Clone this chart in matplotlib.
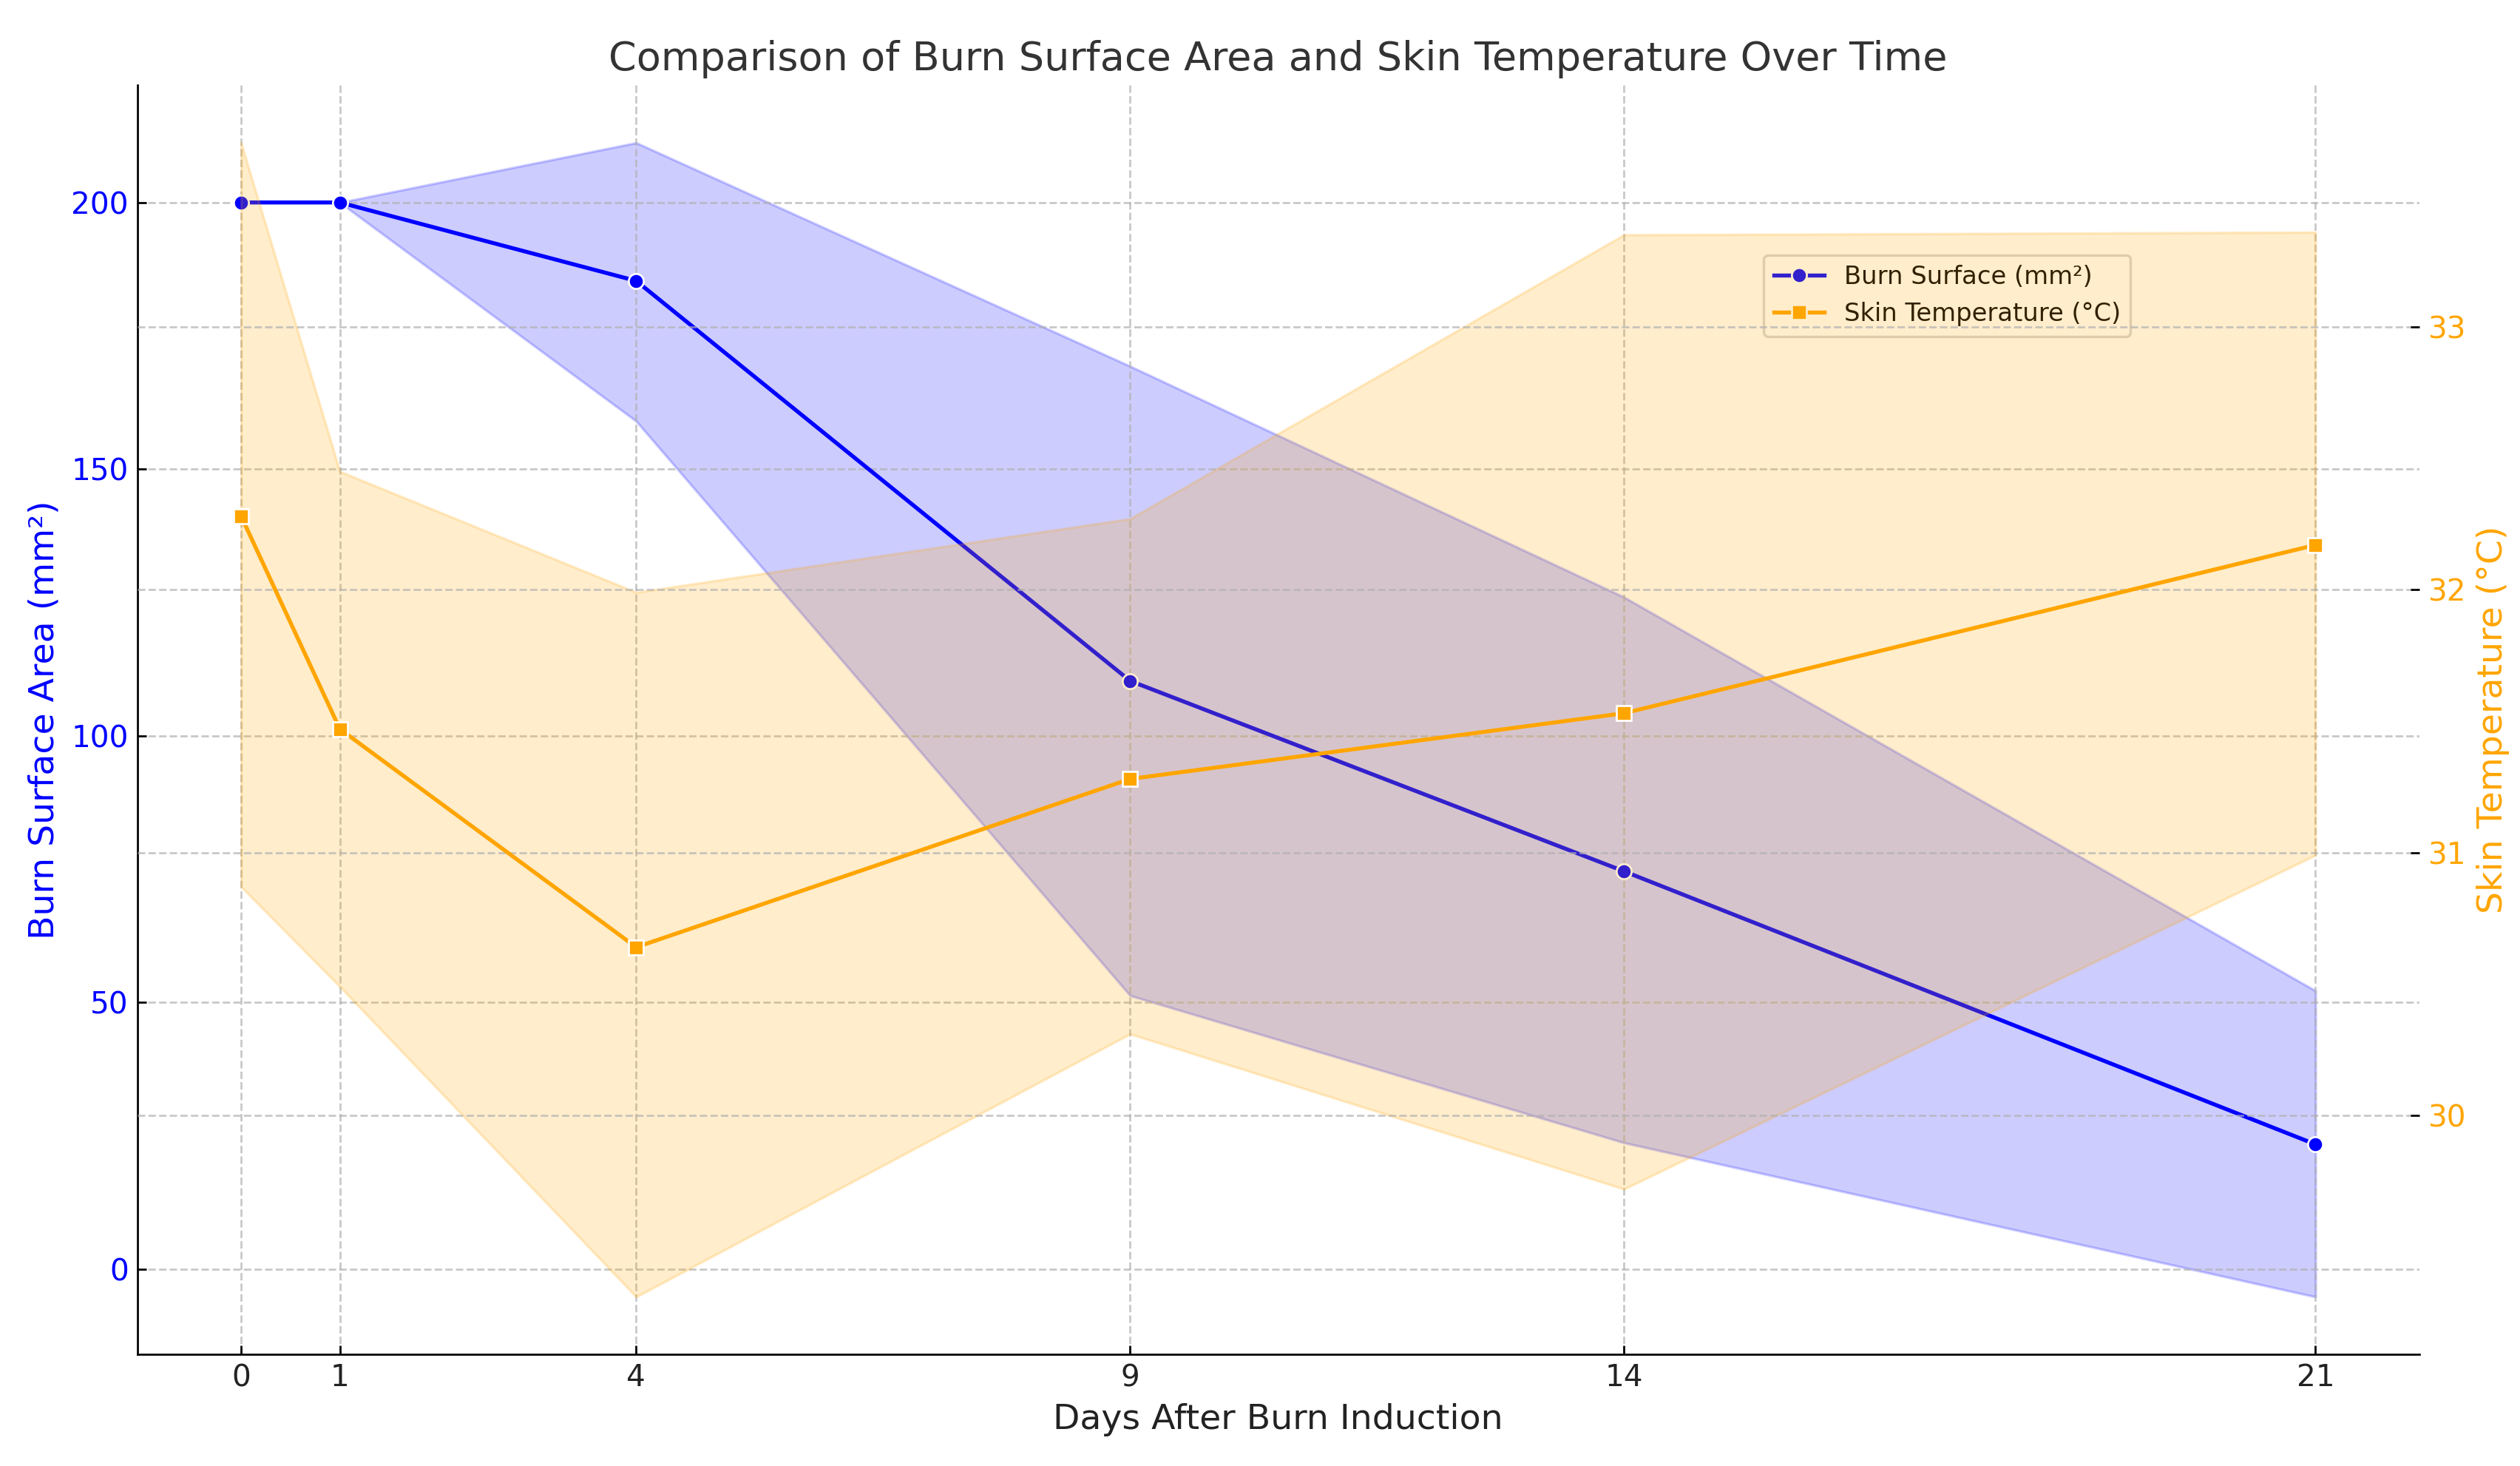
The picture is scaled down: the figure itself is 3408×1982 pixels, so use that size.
import numpy as np
import matplotlib.pyplot as plt

# days after burn induction
days = [0, 1, 4, 9, 14, 21]

# burn surface area (mm2): mean and band
burn_mean = [200, 200, 185.3, 110.3, 74.6, 23.4]
burn_low = [200, 200, 159.0, 51.3, 23.7, -5.2]
burn_high = [200, 200, 211.2, 169.3, 126.0, 52.2]

# skin temperature (C): mean and band
temp_mean = [32.28, 31.47, 30.64, 31.28, 31.53, 32.17]
temp_low = [30.87, 30.49, 29.31, 30.31, 29.72, 30.99]
temp_high = [33.70, 32.45, 31.99, 32.27, 33.35, 33.36]

DPI = 243.43
fig, ax1 = plt.subplots(figsize=(3408 / DPI, 1982 / DPI), dpi=DPI)
plt.subplots_adjust(left=0.0545, right=0.96, top=0.942, bottom=0.076)

ax1.fill_between(days, burn_low, burn_high, color='blue', alpha=0.2, linewidth=1)
l1, = ax1.plot(days, burn_mean, color='blue', marker='o', markersize=6,
               markeredgecolor='white', markeredgewidth=0.8, linewidth=1.6,
               label='Burn Surface (mm²)')
ax1.set_xlabel('Days After Burn Induction', fontsize=14, color='#222222')
ax1.set_ylabel('Burn Surface Area (mm²)', fontsize=14, color='blue')
ax1.tick_params(axis='y', labelcolor='blue', labelsize=12, direction='in')
ax1.tick_params(axis='x', labelsize=12, direction='in', labelcolor='#222222')
ax1.set_xticks(days)
ax1.set_yticks([0, 50, 100, 150, 200])
ax1.grid(True, linestyle='--', color='#b0b0b0', alpha=0.7, linewidth=0.8)
ax1.spines['top'].set_visible(False)
ax1.spines['right'].set_visible(False)

ax2 = ax1.twinx()
ax2.fill_between(days, temp_low, temp_high, color='orange', alpha=0.2, linewidth=1)
l2, = ax2.plot(days, temp_mean, color='orange', marker='s', markersize=6,
               markeredgecolor='white', markeredgewidth=0.8, linewidth=1.6,
               label='Skin Temperature (°C)')
ax2.set_ylabel('Skin Temperature (°C)', fontsize=14, color='orange')
ax2.tick_params(axis='y', labelcolor='orange', labelsize=12, direction='in')
ax2.set_yticks([30, 31, 32, 33])
ax2.grid(True, axis='y', linestyle='--', color='#b0b0b0', alpha=0.7, linewidth=0.8)
for s in ['top', 'right', 'left', 'bottom']:
    ax2.spines[s].set_visible(False)

ax1.legend(handles=[l1, l2], loc='upper right', bbox_to_anchor=(0.879, 0.876),
           fontsize=10)

ax1.set_title('Comparison of Burn Surface Area and Skin Temperature Over Time',
              fontsize=16, color='#333333')

plt.savefig('out.png', dpi=DPI)
